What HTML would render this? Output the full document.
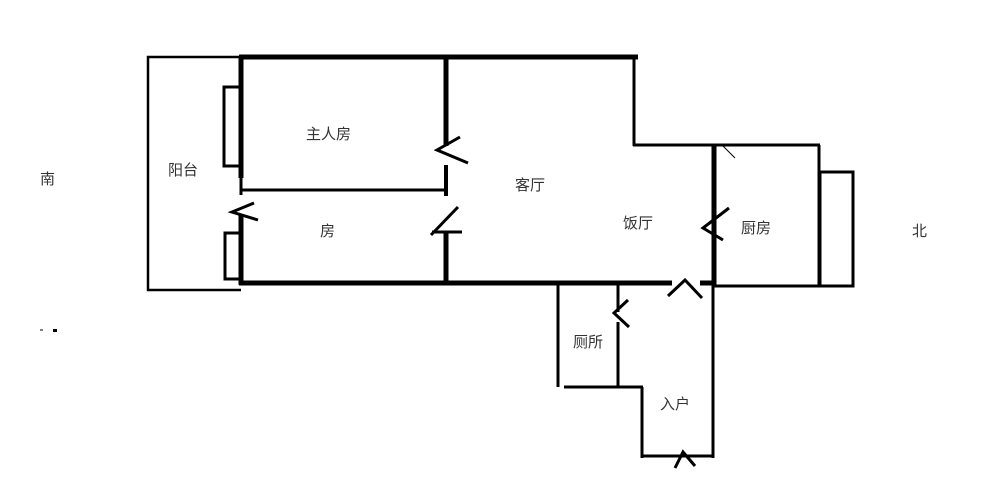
<!DOCTYPE html>
<html><head><meta charset="utf-8"><style>
html,body{margin:0;padding:0;background:#fff;width:1000px;height:485px;overflow:hidden}
text{font-family:"Liberation Sans","Noto Sans CJK SC",sans-serif;font-size:15px;fill:#333}
</style></head><body>
<svg width="1000" height="485" viewBox="0 0 1000 485" xmlns="http://www.w3.org/2000/svg">
<g stroke="#000" fill="none" stroke-linecap="butt">
<!-- balcony -->
<polyline points="241,57 148,57 148,290 241,290" stroke-width="2.5"/>
<!-- top wall -->
<line x1="239" y1="57" x2="638" y2="57" stroke-width="5"/>
<line x1="634" y1="57" x2="634" y2="146" stroke-width="3"/>
<line x1="633" y1="145" x2="820" y2="145" stroke-width="3"/>
<!-- kitchen -->
<polyline points="819,145 819,286 714,286" stroke-width="3"/>
<rect x="820" y="172" width="33" height="114" stroke-width="3"/>
<line x1="714" y1="145" x2="714" y2="286" stroke-width="5"/>
<!-- left wall -->
<line x1="241" y1="57" x2="241" y2="178" stroke-width="5"/>
<line x1="241" y1="178" x2="241" y2="195" stroke-width="3"/>
<line x1="241" y1="215" x2="241" y2="285" stroke-width="5"/>
<rect x="224" y="87" width="17" height="79" stroke-width="3"/>
<rect x="225" y="233" width="16" height="46" stroke-width="3"/>
<!-- divider -->
<line x1="241" y1="190" x2="446" y2="190" stroke-width="3"/>
<!-- middle wall -->
<line x1="446" y1="57" x2="446" y2="146" stroke-width="5"/>
<line x1="446" y1="165" x2="446" y2="196" stroke-width="4"/>
<line x1="446" y1="232" x2="446" y2="283" stroke-width="5"/>
<!-- bottom wall -->
<line x1="239" y1="283" x2="672" y2="283" stroke-width="5"/>
<line x1="700" y1="283" x2="716" y2="283" stroke-width="5"/>
<!-- toilet -->
<line x1="558" y1="283" x2="558" y2="387" stroke-width="3"/>
<line x1="618" y1="283" x2="618" y2="312" stroke-width="3"/>
<line x1="618" y1="322" x2="618" y2="387" stroke-width="3"/>
<line x1="564" y1="387" x2="643" y2="387" stroke-width="3"/>
<!-- entry -->
<line x1="642" y1="387" x2="642" y2="458" stroke-width="3"/>
<line x1="713" y1="283" x2="713" y2="458" stroke-width="3"/>
<line x1="642" y1="456" x2="713" y2="456" stroke-width="3"/>
<!-- doors -->
<g stroke-width="3">
<polyline points="460,137 437,150 468,163"/>
<polyline points="254,203 232,212 258,220"/>
<polyline points="458,207 431,235"/>
<line x1="432" y1="232" x2="462" y2="232"/>
<polyline points="729,208 703,228 723,240"/>
<polyline points="668,296 685,280 702,298"/>
<polyline points="628,300 614,313 629,327"/>
<polyline points="675,468 683,452 695,466"/>
</g>
<line x1="723" y1="146" x2="735" y2="158" stroke-width="1"/>
<line x1="40" y1="330" x2="43" y2="330" stroke-width="1"/>
<rect x="53" y="329" width="4" height="3" fill="#000" stroke="none"/>
</g>
<text x="40" y="184">南</text>
<text x="912" y="236">北</text>
<text x="168" y="175">阳台</text>
<text x="306" y="139">主人房</text>
<text x="320" y="236">房</text>
<text x="515" y="190">客厅</text>
<text x="623" y="228">饭厅</text>
<text x="741" y="233">厨房</text>
<text x="573" y="347">厕所</text>
<text x="660" y="409">入户</text>
</svg>
</body></html>
